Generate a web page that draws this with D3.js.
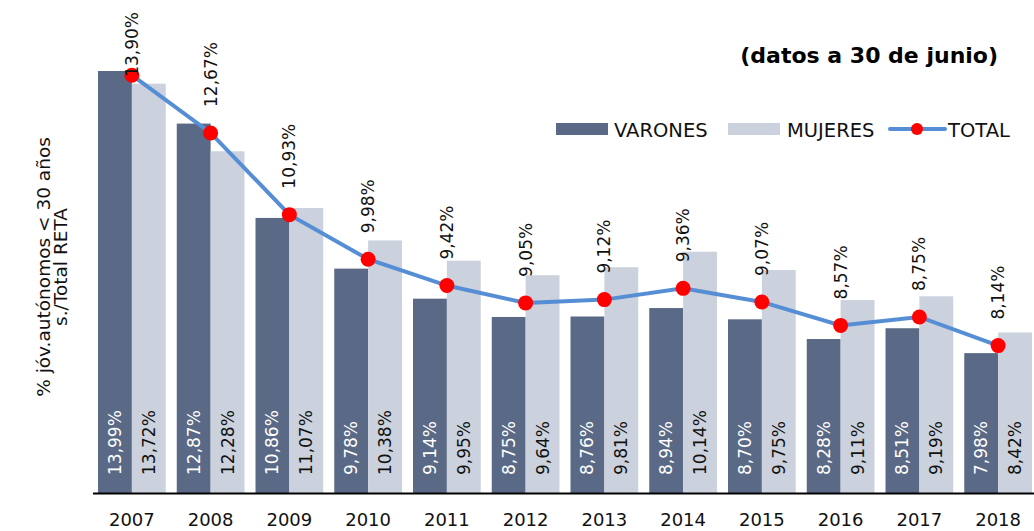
<html lang="es">
<head>
  <meta charset="UTF-8">
  <title>Jóvenes autónomos</title>
  <script src="https://d3js.org/d3.v7.min.js"></script>
  <style>
    body { margin: 0; background: #fff; }
    svg text { font-family: "DejaVu Sans", sans-serif; }
  </style>
</head>
<body>
  <svg class="chart" width="1034" height="531"></svg>
  <script>
    const years = ['2007', '2008', '2009', '2010', '2011', '2012', '2013', '2014', '2015', '2016', '2017', '2018'];
    const varones = [13.99, 12.87, 10.86, 9.78, 9.14, 8.75, 8.76, 8.94, 8.70, 8.28, 8.51, 7.98];
    const mujeres = [13.72, 12.28, 11.07, 10.38, 9.95, 9.64, 9.81, 10.14, 9.75, 9.11, 9.19, 8.42];
    const total = [13.90, 12.67, 10.93, 9.98, 9.42, 9.05, 9.12, 9.36, 9.07, 8.57, 8.75, 8.14];
    const seriesNames = ['VARONES', 'MUJERES', 'TOTAL'];

    const colVar = '#5a6985';
    const colMuj = '#cbd1dd';
    const colLine = '#558ed5';
    const fmt = v => v.toFixed(2).replace('.', ',') + '%';

    const svg = d3.select('svg.chart');
    const x = d3.scaleBand().domain(years).range([92.5, 1037.5]).paddingInner(0.14).paddingOuter(0.07);
    const y = d3.scaleLinear().domain([5, 15]).range([493, 23.6]);
    const bw = x.bandwidth() / 2;
    const cx = yr => x(yr) + bw;

    const rows = years.map((yr, i) => ({ yr, v: varones[i], m: mujeres[i], t: total[i] }));

    // bars
    svg.append('g').selectAll('rect').data(rows).join('rect')
      .attr('x', d => x(d.yr)).attr('y', d => y(d.v))
      .attr('width', bw).attr('height', d => y.range()[0] - y(d.v))
      .attr('fill', colVar);
    svg.append('g').selectAll('rect').data(rows).join('rect')
      .attr('x', d => x(d.yr) + bw).attr('y', d => y(d.m))
      .attr('width', bw).attr('height', d => y.range()[0] - y(d.m))
      .attr('fill', colMuj);

    // labels inside bars
    const inLabel = (acc, dx, color) => {
      svg.append('g').selectAll('text').data(rows).join('text')
        .attr('transform', d => `translate(${x(d.yr) + dx + bw / 2 + 6},475) rotate(-90)`)
        .attr('font-size', 17).attr('fill', color)
        .text(d => fmt(acc(d)));
    };
    inLabel(d => d.v, 0, '#ffffff');
    inLabel(d => d.m, bw, '#111111');

    // axis
    const axis = svg.append('g').attr('transform', 'translate(0,493)')
      .call(d3.axisBottom(x).tickSize(0).tickPadding(20));
    axis.select('.domain').attr('stroke', '#000').attr('stroke-width', 2);
    axis.selectAll('.tick text').attr('font-size', 18).attr('fill', '#111')
      .style('font-family', '"DejaVu Sans", sans-serif');

    // total line
    svg.append('path').datum(rows)
      .attr('fill', 'none').attr('stroke', colLine).attr('stroke-width', 4)
      .attr('d', d3.line().x(d => cx(d.yr)).y(d => y(d.t)));
    svg.append('g').selectAll('circle').data(rows).join('circle')
      .attr('cx', d => cx(d.yr)).attr('cy', d => y(d.t)).attr('r', 7.5)
      .attr('fill', '#ff0000');

    // total labels
    svg.append('g').selectAll('text').data(rows).join('text')
      .attr('font-size', 17).attr('fill', '#111')
      .text(d => fmt(d.t))
      .each(function (d) {
        const len = this.getComputedTextLength();
        let start = y(d.t) - 26;
        if (start - len < 12) start = 12 + len;
        d3.select(this).attr('transform', `translate(${cx(d.yr) + 6},${start}) rotate(-90)`);
      });

    // y title
    const yt = svg.append('text').attr('transform', 'translate(0,267) rotate(-90)')
      .attr('text-anchor', 'middle').attr('font-size', 18.5).attr('fill', '#111');
    yt.append('tspan').attr('x', 0).attr('y', 50).text('% jóv.autónomos < 30 años');
    yt.append('tspan').attr('x', 0).attr('y', 67).text('s./Total RETA');

    // note
    svg.append('text').attr('x', 998).attr('y', 63).attr('text-anchor', 'end')
      .attr('font-size', 22).attr('font-weight', 'bold').attr('fill', '#000')
      .text('(datos a 30 de junio)');

    // legend
    const lg = svg.append('g').attr('font-size', 19.5).attr('fill', '#111');
    lg.append('rect').attr('x', 556).attr('y', 123).attr('width', 52).attr('height', 12).attr('fill', colVar);
    lg.append('text').attr('x', 614).attr('y', 137).text(seriesNames[0]);
    lg.append('rect').attr('x', 728).attr('y', 123).attr('width', 52).attr('height', 12).attr('fill', colMuj);
    lg.append('text').attr('x', 787).attr('y', 137).text(seriesNames[1]);
    lg.append('line').attr('x1', 890).attr('x2', 945).attr('y1', 129).attr('y2', 129)
      .attr('stroke', colLine).attr('stroke-width', 4).attr('stroke-linecap', 'round');
    lg.append('circle').attr('cx', 917).attr('cy', 129).attr('r', 6).attr('fill', '#ff0000');
    lg.append('text').attr('x', 948).attr('y', 137).text(seriesNames[2]);
  </script>
</body>
</html>
